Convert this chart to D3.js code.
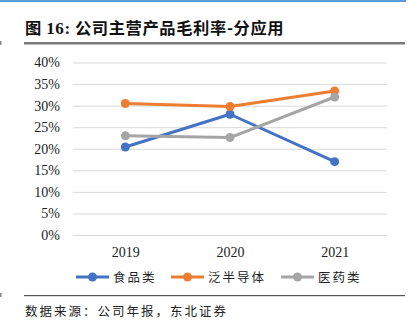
<!DOCTYPE html>
<html>
<head>
<meta charset="utf-8">
<script src="https://cdn.jsdelivr.net/npm/d3@7"></script>
<style>
  html, body { margin: 0; padding: 0; background: #fff; }
  svg { display: block; }
</style>
</head>
<body>
<svg id="chart" width="418" height="336"></svg>
<script>
// Gross margin of main products by application segment (%)
const years = ["2019", "2020", "2021"];
const food = [20.4, 28.0, 17.0];
const semiconductor = [30.5, 29.8, 33.4];
const pharma = [23.0, 22.6, 32.0];
const seriesNames = ["食品类", "泛半导体", "医药类"];
const yTicks = [0, 5, 10, 15, 20, 25, 30, 35, 40];

const series = [
  { name: seriesNames[0], values: food, color: "#4472c4" },
  { name: seriesNames[1], values: semiconductor, color: "#ed7d31" },
  { name: seriesNames[2], values: pharma, color: "#a5a5a5" }
];

const svg = d3.select("#chart");
const cjk = "'Noto Sans CJK SC', 'Noto Sans', sans-serif";
const serif = "'Liberation Serif', 'Times New Roman', serif";

// page frame: top rule, title, underline
svg.append("rect").attr("x", 0).attr("y", 0).attr("width", 406).attr("height", 2).attr("fill", "#5b9bd5");
const title = svg.append("text").attr("x", 25).attr("y", 34)
  .attr("font-family", cjk).attr("font-weight", "bold").attr("font-size", 16.3)
  .attr("letter-spacing", 0.6).attr("fill", "#111");
title.append("tspan").text("图 ");
title.append("tspan").attr("font-family", serif).attr("font-size", 17).text("16:");
title.append("tspan").text("  公司主营产品毛利率-分应用");
svg.append("rect").attr("x", 24).attr("y", 42).attr("width", 381).attr("height", 2.5).attr("fill", "#7a7a7a");
svg.append("rect").attr("x", 0).attr("y", 41).attr("width", 1.5).attr("height", 4).attr("fill", "#888");

// plot area
const x = d3.scalePoint().domain(years).range([73, 387]).padding(0.5);
const y = d3.scaleLinear().domain([0, 40]).range([235, 62.5]);

const yAxis = d3.axisLeft(y).tickValues(yTicks).tickFormat(d => d + "%").tickSize(-(387 - 73)).tickPadding(13);
const gy = svg.append("g").attr("transform", "translate(73,0)").call(yAxis);
gy.select(".domain").remove();
gy.selectAll(".tick line").attr("stroke", "#d9d9d9").attr("stroke-width", 1);
gy.selectAll(".tick text").attr("font-family", serif).attr("font-size", 14).attr("fill", "#222");

const xAxis = d3.axisBottom(x).tickSize(0).tickPadding(12);
const gx = svg.append("g").attr("transform", "translate(0,235)").call(xAxis);
gx.select(".domain").remove();
gx.selectAll(".tick text").attr("font-family", serif).attr("font-size", 14).attr("fill", "#222");

const line = d3.line().x((d, i) => x(years[i])).y(d => y(d));

series.forEach(s => {
  svg.append("path").datum(s.values)
    .attr("d", line).attr("fill", "none")
    .attr("stroke", s.color).attr("stroke-width", 3).attr("stroke-linejoin", "round");
  svg.selectAll(null).data(s.values).enter().append("circle")
    .attr("cx", (d, i) => x(years[i])).attr("cy", d => y(d))
    .attr("r", 4.5).attr("fill", s.color);
});

// legend
const legendX = [76, 171, 281];
const legendY = 277;
series.forEach((s, i) => {
  const g = svg.append("g").attr("transform", `translate(${legendX[i]},${legendY})`);
  g.append("line").attr("x1", 0).attr("x2", 33).attr("y1", 0).attr("y2", 0)
    .attr("stroke", s.color).attr("stroke-width", 3);
  g.append("circle").attr("cx", 16.5).attr("cy", 0).attr("r", 4.5).attr("fill", s.color);
  g.append("text").attr("x", 37).attr("y", 4.5)
    .attr("font-family", cjk).attr("font-size", 12.5).attr("letter-spacing", 2)
    .attr("fill", "#222").text(s.name);
});

// footer
svg.append("rect").attr("x", 24).attr("y", 295).attr("width", 381).attr("height", 1.2).attr("fill", "#555");
svg.append("rect").attr("x", 0).attr("y", 293).attr("width", 1.5).attr("height", 4).attr("fill", "#888");
svg.append("text").attr("x", 25).attr("y", 316)
  .attr("font-family", cjk).attr("font-size", 12.5).attr("letter-spacing", 2)
  .attr("fill", "#222").text("数据来源：公司年报，东北证券");
</script>
</body>
</html>
